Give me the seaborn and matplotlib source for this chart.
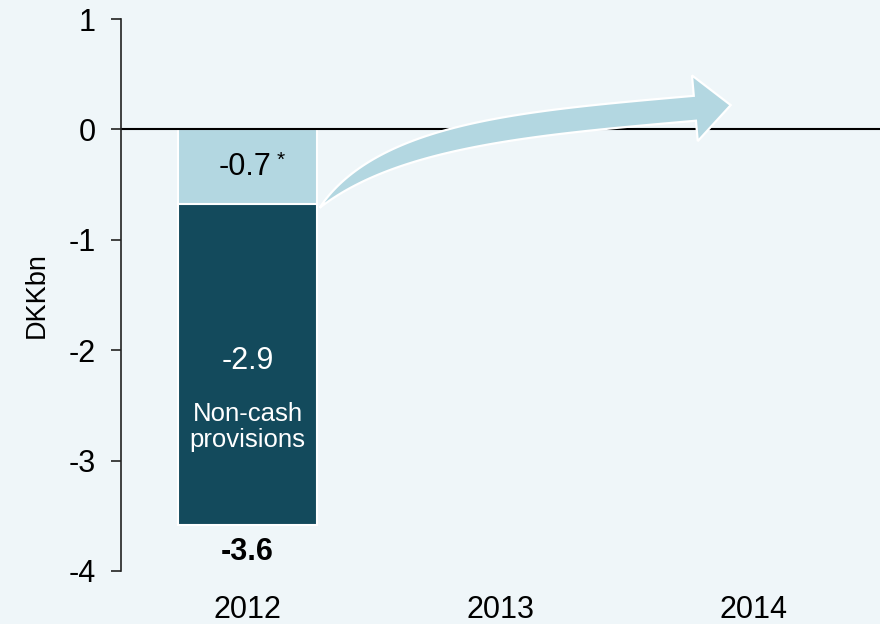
import matplotlib
matplotlib.use("Agg")
import matplotlib.pyplot as plt
import matplotlib.transforms as mtransforms
import seaborn as sns
import pandas as pd
import numpy as np
from matplotlib.patches import Polygon

# data (DKKbn)
years = ["2012", "2013", "2014"]
data_years = ["2012"]
other_items = [-0.68]
provisions = [-2.9]
other_label = "-0.7"
provisions_label = "-2.9"
provisions_text = "Non-cash\nprovisions"
total_label = "-3.6"
arrow_target = (1.91, 0.22)   # where the arrow points (data coords)

BG = "#EFF6F9"
LIGHT = "#B3D7E1"
DARK = "#134A5C"
BAR_W = 0.55

sns.set_theme(style="white")
plt.rcParams["font.family"] = ["Liberation Sans", "DejaVu Sans"]

df = pd.DataFrame({"year": data_years, "other": other_items, "prov": provisions})
df["total"] = df["other"] + df["prov"]

fig = plt.figure(figsize=(8.8, 6.24), dpi=100, facecolor=BG)
ax = fig.add_axes([0.1375, 0.085, 0.8625, 0.8845])
ax.set_facecolor(BG)

# stacked: total first, then the light segment over it
sns.barplot(data=df, x="year", y="total", order=years, color=DARK, saturation=1,
            width=BAR_W, edgecolor="white", linewidth=1.5, ax=ax)
sns.barplot(data=df, x="year", y="other", order=years, color=LIGHT, saturation=1,
            width=BAR_W, edgecolor="white", linewidth=1.5, ax=ax)

ax.axhline(0, color="black", lw=1.5, zorder=1)

ax.set_ylim(-4, 1)
ax.set_xlim(-0.5, 2.5)
ax.set_yticks([1, 0, -1, -2, -3, -4])
ax.set_yticklabels(["1", "0", "-1", "-2", "-3", "-4"])
ax.tick_params(axis="y", left=True, direction="out", length=7, width=1.2,
               color="#222222", labelsize=22, labelcolor="black", pad=11)
ax.tick_params(axis="x", bottom=False, labelsize=22, labelcolor="black", pad=11)
ax.set_xlabel("")
ax.set_ylabel("DKKbn", fontsize=19.5, labelpad=14, color="black")
for s in ["top", "right", "bottom"]:
    ax.spines[s].set_visible(False)
ax.spines["left"].set_color("#222222")
ax.spines["left"].set_linewidth(1.2)

# labels
o = df["other"].iloc[0]
p = df["prov"].iloc[0]
t = df["total"].iloc[0]
ax.text(-0.01, o / 2, other_label, ha="center", va="center", fontsize=22, color="black")
ax.annotate("*", xy=(-0.01, o / 2), xytext=(26, 5), textcoords="offset points",
            ha="center", va="center", fontsize=15, color="black")
ax.text(0, o + p * 0.49, provisions_label, ha="center", va="center", fontsize=22, color="white")
ax.text(0, o + p * 0.695, provisions_text, ha="center", va="center", fontsize=18.5,
        color="white", linespacing=1.1)
ax.text(0, t - 0.25, total_label, ha="center", va="center", fontsize=22,
        fontweight="bold", color="black")

# curved arrow from the one-off part towards the following years
# built in display pixels: tapered tail from the bar corner, head at target
tr = ax.transData
p0 = tr.transform((BAR_W / 2 + 0.01, o - 0.03))
tip = tr.transform(arrow_target)
a_head = np.deg2rad(5)
d = np.array([np.cos(a_head), np.sin(a_head)])
nrm = np.array([-d[1], d[0]])
head_len, head_half, shaft = 36, 33, 25
p3 = tip - head_len * d
a0 = np.deg2rad(47)
p1 = p0 + 100 * np.array([np.cos(a0), np.sin(a0)])
p2 = p3 - 170 * d
ts = np.linspace(0, 1, 80)[:, None]
pts = ((1 - ts) ** 3) * p0 + 3 * ((1 - ts) ** 2) * ts * p1 + 3 * (1 - ts) * ts ** 2 * p2 + ts ** 3 * p3
der = 3 * ((1 - ts) ** 2) * (p1 - p0) + 6 * (1 - ts) * ts * (p2 - p1) + 3 * ts ** 2 * (p3 - p2)
der = der / np.linalg.norm(der, axis=1)[:, None]
nn = np.column_stack([-der[:, 1], der[:, 0]])
half = (shaft / 2) * (1 - (1 - ts) ** 4)
upper = pts + nn * half
lower = pts - nn * half
poly = np.vstack([upper, p3 + head_half * nrm, tip, p3 - head_half * nrm, lower[::-1]])
arrow = Polygon(poly, closed=True, transform=mtransforms.IdentityTransform(),
                facecolor=LIGHT, edgecolor="white", lw=1.6, zorder=3, clip_on=False)
ax.add_artist(arrow)

fig.savefig("out.png", dpi=100, facecolor=BG)
